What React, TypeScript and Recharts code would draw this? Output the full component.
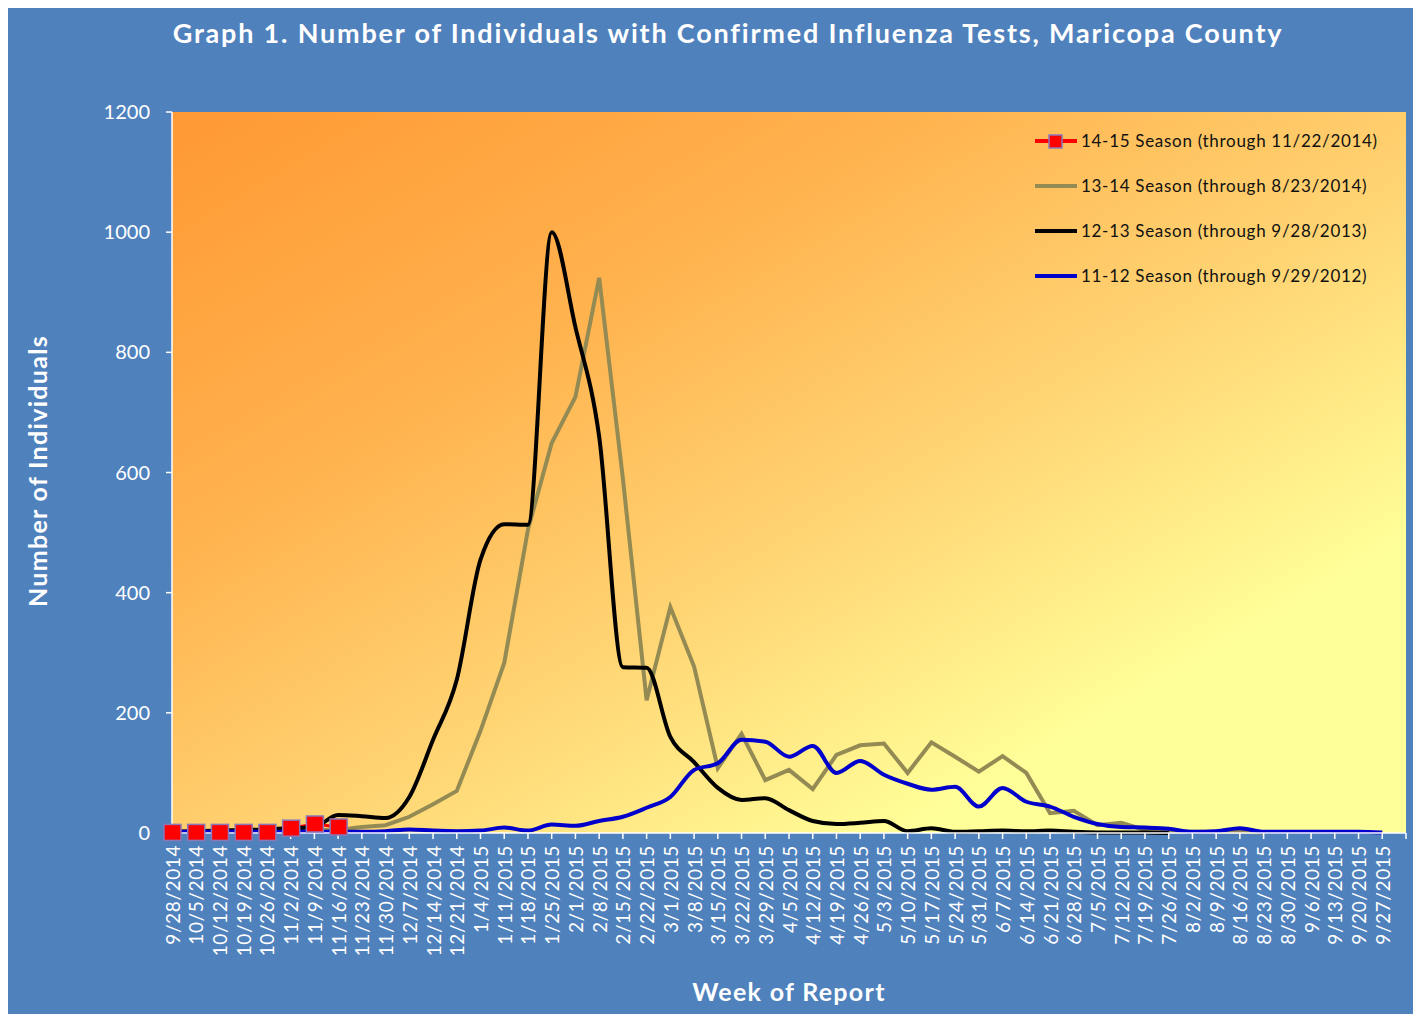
import React from "react";
import { CartesianGrid, Line, LineChart, XAxis, YAxis } from "recharts";

const weeks = [
  "9/28/2014", "10/5/2014", "10/12/2014", "10/19/2014", "10/26/2014", "11/2/2014", "11/9/2014",
  "11/16/2014", "11/23/2014", "11/30/2014", "12/7/2014", "12/14/2014", "12/21/2014", "1/4/2015",
  "1/11/2015", "1/18/2015", "1/25/2015", "2/1/2015", "2/8/2015", "2/15/2015", "2/22/2015",
  "3/1/2015", "3/8/2015", "3/15/2015", "3/22/2015", "3/29/2015", "4/5/2015", "4/12/2015",
  "4/19/2015", "4/26/2015", "5/3/2015", "5/10/2015", "5/17/2015", "5/24/2015", "5/31/2015",
  "6/7/2015", "6/14/2015", "6/21/2015", "6/28/2015", "7/5/2015", "7/12/2015", "7/19/2015",
  "7/26/2015", "8/2/2015", "8/9/2015", "8/16/2015", "8/23/2015", "8/30/2015", "9/6/2015",
  "9/13/2015", "9/20/2015", "9/27/2015", "",
];

// 14-15 season, through 11/22/2014
const season1415 = [1, 1, 1, 1, 1, 8, 15, 10];

// 13-14 season, through 8/23/2014
const season1314 = [
  2, 2, 3, 3, 3, 4, 5, 5, 10, 13, 27, 48, 70, 170, 283, 505, 649, 726, 924, 590, 221, 376, 277,
  108, 165, 88, 105, 73, 130, 146, 149, 100, 151, 127, 102, 128, 100, 33, 37, 13, 17, 5, 3, 2, 2,
  2, 1,
];

// 12-13 season, through 9/28/2013
const season1213 = [
  2, 3, 4, 5, 6, 8, 10, 30, 28, 25, 60, 155, 255, 455, 514, 513, 1000, 842, 660, 276, 275, 160,
  118, 75, 55, 58, 38, 20, 15, 17, 20, 3, 8, 2, 3, 4, 3, 4, 2, 1, 1, 1, 0,
];

// 11-12 season, through 9/29/2012
const season1112 = [
  2, 2, 2, 2, 2, 2, 2, 2, 2, 3, 6, 4, 3, 4, 9, 4, 14, 12, 20, 27, 42, 60, 105, 116, 155, 152, 127,
  145, 100, 120, 97, 82, 72, 77, 44, 75, 52, 44, 27, 15, 10, 9, 7, 2, 3, 8, 2, 2, 2, 2, 2, 1,
];

const yTicks = [0, 200, 400, 600, 800, 1000, 1200];

const series = [
  { key: "s1415", name: "14-15 Season (through 11/22/2014)", color: "#ff0000", marker: true },
  { key: "s1314", name: "13-14 Season (through 8/23/2014)", color: "#948a54", marker: false },
  { key: "s1213", name: "12-13 Season (through 9/28/2013)", color: "#000000", marker: false },
  { key: "s1112", name: "11-12 Season (through 9/29/2012)", color: "#0000cc", marker: false },
];

const rows = weeks.map((week, i) => ({
  week,
  s1415: season1415[i] ?? null,
  s1314: season1314[i] ?? null,
  s1213: season1213[i] ?? null,
  s1112: season1112[i] ?? null,
}));

const font = "Lato, 'Open Sans', sans-serif";

function WeekTick(props: any) {
  const { x, y, payload } = props;
  return (
    <text
      x={x}
      y={y}
      transform={`rotate(-90, ${x}, ${y})`}
      textAnchor="end"
      dominantBaseline="central"
      fill="#ffffff"
      fontSize={19}
      fontFamily={font}
      letterSpacing={0.6}
    >
      {payload.value}
    </text>
  );
}

function Square(props: any) {
  const { cx, cy } = props;
  if (cx == null || cy == null) return null;
  return (
    <rect x={cx - 8} y={cy - 8} width={17} height={16} fill="#ff0000" stroke="#8a78b8" strokeWidth={1.5} />
  );
}

function SeasonLegend() {
  return (
    <div
      style={{
        position: "absolute",
        top: 112,
        left: 1026,
        fontFamily: font,
        fontSize: 17,
        letterSpacing: 0.7,
        color: "#111",
      }}
    >
      {series.map((s) => (
        <div key={s.key} style={{ display: "flex", alignItems: "center", height: 45 }}>
          <svg width={46} height={16}>
            <line x1={2} y1={8} x2={44} y2={8} stroke={s.color} strokeWidth={4} />
            {s.marker && <rect x={16} y={2} width={13} height={13} fill="#ff0000" stroke="#8a78b8" strokeWidth={1.5} />}
          </svg>
          <span style={{ marginLeft: 2 }}>{s.name}</span>
        </div>
      ))}
    </div>
  );
}

export default function App() {
  return (
    <div
      style={{
        position: "relative",
        width: 1407,
        height: 1008,
        marginLeft: -1,
        marginTop: -2,
        background: "#4f81bd",
        fontFamily: font,
      }}
    >
      <LineChart
        width={1407}
        height={1008}
        data={rows}
        margin={{ top: 106, right: 8, left: 0, bottom: 0 }}
        style={{ position: "absolute", top: 0, left: 0 }}
      >
        <defs>
          <linearGradient id="plotBg" x1="0" y1="0" x2="1" y2="1">
            <stop offset="0" stopColor="#ff9933" />
            <stop offset="0.3" stopColor="#ffb24e" />
            <stop offset="0.55" stopColor="#ffd473" />
            <stop offset="0.8" stopColor="#ffff99" />
            <stop offset="1" stopColor="#ffff99" />
          </linearGradient>
        </defs>
        <CartesianGrid horizontal={false} vertical={false} fill="url(#plotBg)" />
        <XAxis
          dataKey="week"
          interval={0}
          height={181}
          tick={<WeekTick />}
          tickSize={6}
          tickMargin={6}
          axisLine={{ stroke: "#ffffff", strokeWidth: 1.5 }}
          tickLine={{ stroke: "#ffffff", strokeWidth: 1.5 }}
        />
        <YAxis
          width={165}
          domain={[0, 1200]}
          ticks={yTicks}
          tickSize={6}
          tickMargin={16}
          tick={{ fill: "#ffffff", fontSize: 20, fontFamily: font }}
          axisLine={{ stroke: "#ffffff", strokeWidth: 1.5 }}
          tickLine={{ stroke: "#ffffff", strokeWidth: 1.5 }}
        />
        <Line
          dataKey="s1415"
          name="14-15 Season (through 11/22/2014)"
          type="linear"
          stroke="#ff0000"
          strokeWidth={3}
          dot={<Square />}
          activeDot={false}
          isAnimationActive={false}
        />
        <Line
          dataKey="s1314"
          name="13-14 Season (through 8/23/2014)"
          type="linear"
          stroke="#948a54"
          strokeWidth={4}
          dot={false}
          activeDot={false}
          isAnimationActive={false}
        />
        <Line
          dataKey="s1213"
          name="12-13 Season (through 9/28/2013)"
          type="monotone"
          stroke="#000000"
          strokeWidth={4}
          dot={false}
          activeDot={false}
          isAnimationActive={false}
        />
        <Line
          dataKey="s1112"
          name="11-12 Season (through 9/29/2012)"
          type="monotone"
          stroke="#0000cc"
          strokeWidth={4}
          dot={false}
          activeDot={false}
          isAnimationActive={false}
        />
      </LineChart>
      <SeasonLegend />
      <div
        style={{
          position: "absolute",
          top: 10,
          left: 0,
          width: 1442,
          textAlign: "center",
          color: "#ffffff",
          fontWeight: 700,
          fontSize: 27,
          letterSpacing: 1.8,
          whiteSpace: "nowrap",
        }}
      >
        Graph 1. Number of Individuals with Confirmed Influenza Tests, Maricopa County
      </div>
      <div
        style={{
          position: "absolute",
          top: 970,
          left: 165,
          width: 1234,
          textAlign: "center",
          color: "#ffffff",
          fontWeight: 700,
          fontSize: 25,
          letterSpacing: 1.3,
        }}
      >
        Week of Report
      </div>
      <div
        style={{
          position: "absolute",
          left: 30 - 150,
          top: 466 - 16,
          width: 300,
          textAlign: "center",
          color: "#ffffff",
          fontWeight: 700,
          fontSize: 25,
          letterSpacing: 1.3,
          transform: "rotate(-90deg)",
        }}
      >
        Number of Individuals
      </div>
    </div>
  );
}
